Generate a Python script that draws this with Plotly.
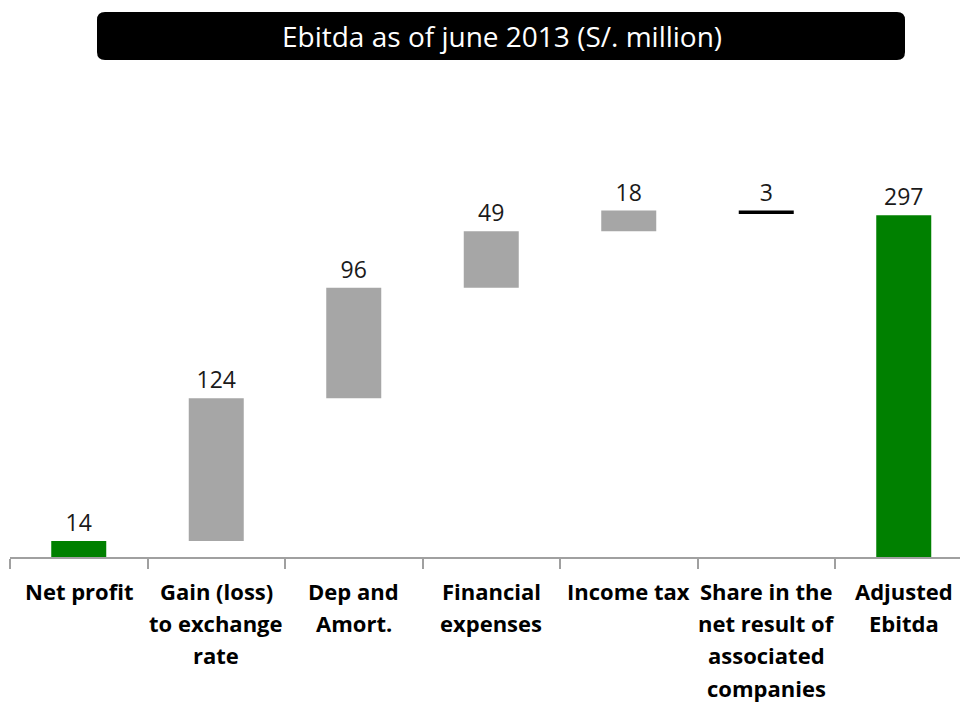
import plotly.graph_objects as go

# Waterfall steps (S/. million)
categories = [
    "Net profit",
    "Gain (loss)<br>to exchange<br>rate",
    "Dep and<br>Amort.",
    "Financial<br>expenses",
    "Income tax",
    "Share in the<br>net result of<br>associated<br>companies",
    "Adjusted<br>Ebitda",
]
values = [14, 124, 96, 49, 18, -3, 297]
measures = ["absolute", "relative", "relative", "relative", "relative", "relative", "total"]

GREEN = "#008000"
GREY = "#A6A6A6"
BLACK = "#000000"

# Build floating bar extents from the running total
bases, heights, colors, labels = [], [], [], []
running = 0
for v, m in zip(values, measures):
    if m in ("absolute", "total"):
        low, high = 0, v
        running = v
        col = GREEN
    else:
        low, high = min(running, running + v), max(running, running + v)
        running += v
        col = GREY if v >= 0 else BLACK
    bases.append(low)
    heights.append(high - low)
    colors.append(col)
    labels.append(str(abs(v)))

x_idx = list(range(len(categories)))

fig = go.Figure(
    go.Bar(
        x=x_idx,
        y=heights,
        base=bases,
        width=0.4,
        marker=dict(color=colors, line=dict(width=0)),
        text=labels,
        textposition="outside",
        cliponaxis=False,
        textfont=dict(family="Open Sans", size=23, color="#1a1a1a"),
        hoverinfo="skip",
    )
)

W, H = 960, 702
ML, MR, MT, MB = 10, 0, 100, 145
plot_w = W - ML - MR
plot_h = H - MT - MB
cat_px = 137.5
px_per_unit = 1.1508

fig.update_layout(
    width=W,
    height=H,
    margin=dict(l=ML, r=MR, t=MT, b=MB),
    paper_bgcolor="white",
    plot_bgcolor="white",
    showlegend=False,
    font=dict(family="Open Sans"),
    uniformtext=dict(mode=False),
    xaxis=dict(
        type="linear",
        range=[-0.5, -0.5 + plot_w / cat_px],
        showgrid=False,
        zeroline=False,
        showline=True,
        linecolor="#A0A0A0",
        linewidth=1.5,
        ticks="outside",
        ticklen=10,
        tickwidth=1.5,
        tickcolor="#A0A0A0",
        tickvals=[i - 0.5 for i in range(len(categories))],
        showticklabels=False,
    ),
    yaxis=dict(
        range=[0, plot_h / px_per_unit],
        visible=False,
    ),
)

# Category labels, one annotation per line for Excel-like line spacing
for i, cat in enumerate(categories):
    for j, line in enumerate(cat.split("<br>")):
        fig.add_annotation(
            x=i, y=0, xref="x", yref="y",
            text=line,
            showarrow=False,
            xanchor="center", yanchor="middle",
            yshift=-(34 + 32.2 * j),
            font=dict(family="Open Sans", size=22, color="black", weight="bold"),
        )

# Title banner: black rounded rectangle with white text
def px_to_paper_x(px):
    return (px - ML) / plot_w

def px_to_paper_y(py):
    return (H - MB - py) / plot_h

x0, x1 = px_to_paper_x(97), px_to_paper_x(905)
y1, y0 = px_to_paper_y(12), px_to_paper_y(60)
rx = 8 / plot_w
ry = 8 / plot_h
path = (
    f"M {x0 + rx},{y0} L {x1 - rx},{y0} Q {x1},{y0} {x1},{y0 + ry} "
    f"L {x1},{y1 - ry} Q {x1},{y1} {x1 - rx},{y1} "
    f"L {x0 + rx},{y1} Q {x0},{y1} {x0},{y1 - ry} "
    f"L {x0},{y0 + ry} Q {x0},{y0} {x0 + rx},{y0} Z"
)
fig.add_shape(type="path", path=path, xref="paper", yref="paper",
              fillcolor="black", line=dict(width=0), layer="above")

fig.add_annotation(
    x=px_to_paper_x(502), y=px_to_paper_y(36), xref="paper", yref="paper",
    text="Ebitda as of june 2013 (S/. million)",
    showarrow=False, xanchor="center", yanchor="middle",
    font=dict(family="Open Sans", size=28, color="white"),
)

fig.write_html("out.html")
